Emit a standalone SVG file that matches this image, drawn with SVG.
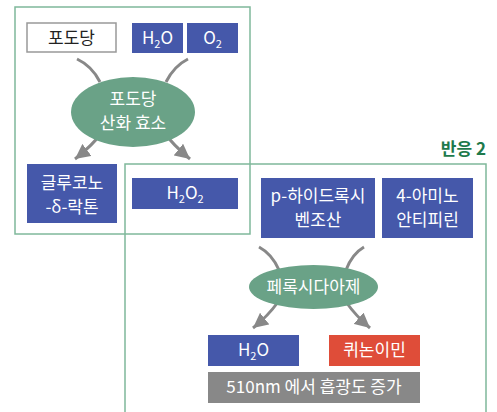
<svg xmlns="http://www.w3.org/2000/svg" width="497" height="412" viewBox="0 0 497 412">
<defs>
<style>
.frame{fill:none;stroke:#7fb89b;stroke-width:1.5}
.blue{fill:#4558aa}
.t{font-family:"Noto Sans CJK KR","Noto Sans",sans-serif;font-size:17px;fill:#ffffff;text-anchor:middle}
.dark{fill:#222222}
.conn{fill:none;stroke:#888888;stroke-width:3}
.ell{fill:#6aa287}
</style>
<marker id="ah" markerUnits="userSpaceOnUse" markerWidth="15" markerHeight="15" viewBox="0 0 10 10" refX="10" refY="5" orient="auto">
<path d="M0,0 L10,5 L0,10 z" fill="#888888"/>
</marker>
</defs>
<rect width="497" height="412" fill="#ffffff"/>
<rect class="frame" x="15" y="7" width="235" height="227"/>
<path class="frame" d="M125,412 V164 H486 V412"/>
<text x="486" y="155" font-family="'Noto Sans CJK KR','Noto Sans',sans-serif" font-size="17" font-weight="bold" fill="#1e7a4c" text-anchor="end">반응 2</text>
<g id="connectors">
<path class="conn" d="M77,59 Q92,66 100,82"/>
<path class="conn" d="M188,59 Q174,66 166,82"/>
<path class="conn" d="M104,130 Q92,146 75,159" marker-end="url(#ah)"/>
<path class="conn" d="M162,130 Q174,146 190,159" marker-end="url(#ah)"/>
<path class="conn" d="M259,247 Q272,254 279,270"/>
<path class="conn" d="M364,247 Q352,254 346,270"/>
<path class="conn" d="M278,302 Q268,316 253,328" marker-end="url(#ah)"/>
<path class="conn" d="M346,302 Q356,316 370,328" marker-end="url(#ah)"/>
</g>
<g id="glucose">
<rect x="27" y="23" width="89" height="29" fill="#ffffff" stroke="#999999" stroke-width="1.5"/>
<text class="t dark" x="71.5" y="43.5">포도당</text>
</g>
<g id="h2o-1">
<rect class="blue" x="132" y="23" width="51" height="30"/>
<text class="t" x="157.5" y="44">H<tspan font-size="11" dy="4">2</tspan><tspan dy="-4">O</tspan></text>
</g>
<g id="o2">
<rect class="blue" x="187" y="23" width="51" height="30"/>
<text class="t" x="212.5" y="44">O<tspan font-size="11" dy="4">2</tspan></text>
</g>
<g id="gox">
<ellipse class="ell" cx="133" cy="112" rx="62" ry="35"/>
<text class="t" x="133" y="105">포도당</text>
<text class="t" x="133" y="129">산화 효소</text>
</g>
<g id="gluconolactone">
<rect class="blue" x="27" y="164" width="90" height="59"/>
<text class="t" x="72" y="189">글루코노</text>
<text class="t" x="72" y="213">-δ-락톤</text>
</g>
<g id="h2o2">
<rect class="blue" x="132" y="178" width="106" height="31"/>
<text class="t" x="185" y="199">H<tspan font-size="11" dy="4">2</tspan><tspan dy="-4">O</tspan><tspan font-size="11" dy="4">2</tspan></text>
</g>
<g id="phba">
<rect class="blue" x="261" y="178" width="114" height="60"/>
<text class="t" x="318" y="202">p-하이드록시</text>
<text class="t" x="318" y="226">벤조산</text>
</g>
<g id="aap">
<rect class="blue" x="382" y="178" width="91" height="60"/>
<text class="t" x="427.5" y="202">4-아미노</text>
<text class="t" x="427.5" y="226">안티피린</text>
</g>
<g id="peroxidase">
<ellipse class="ell" cx="313.5" cy="287" rx="64.5" ry="22"/>
<text class="t" x="313.5" y="293">페록시다아제</text>
</g>
<g id="h2o-2">
<rect class="blue" x="208" y="335" width="91" height="31"/>
<text class="t" x="253.5" y="356">H<tspan font-size="11" dy="4">2</tspan><tspan dy="-4">O</tspan></text>
</g>
<g id="quinoneimine">
<rect x="329" y="335" width="91" height="31" fill="#df4d39"/>
<text class="t" x="374.5" y="356">퀴논이민</text>
</g>
<g id="absorbance">
<rect x="208" y="372" width="212" height="31" fill="#888888"/>
<text class="t" x="314" y="393">510nm 에서 흡광도 증가</text>
</g>
</svg>
